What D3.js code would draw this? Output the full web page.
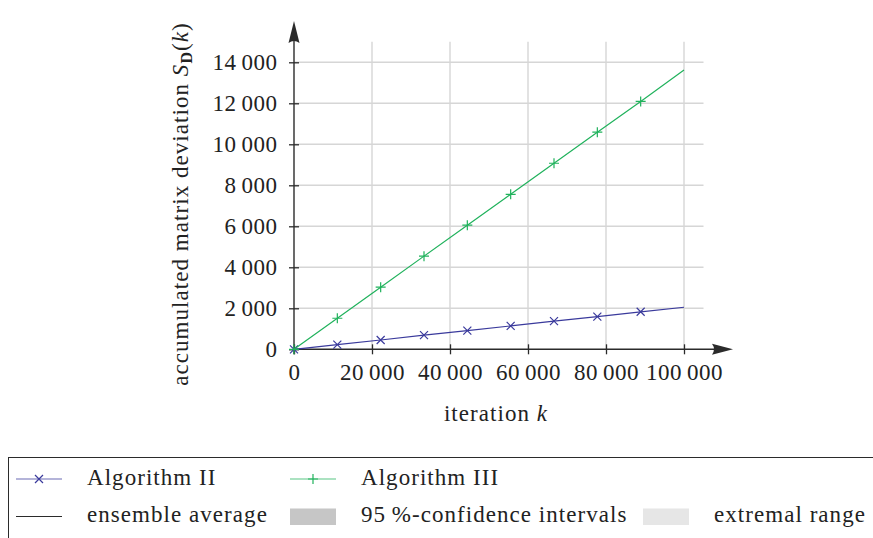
<!DOCTYPE html>
<html>
<head>
<meta charset="utf-8">
<script src="https://cdn.jsdelivr.net/npm/d3@7"></script>
<style>
  html, body { margin: 0; padding: 0; background: #fff; }
  svg { display: block; }
  text { font-family: "Liberation Serif", "Times New Roman", serif; fill: #222; letter-spacing: 1.05px; }
  .tick text { letter-spacing: 0.5px; }
</style>
</head>
<body>
<svg id="chart" width="873" height="538"></svg>
<script>
// Accumulated matrix deviation over the iterations, sampled every 1/9 of the run
const iterations = [0, 11111, 22222, 33333, 44444, 55556, 66667, 77778, 88889, 100000];
const algorithmII = [0, 230, 455, 690, 910, 1140, 1375, 1595, 1830, 2050];
const algorithmIII = [0, 1515, 3030, 4545, 6055, 7560, 9075, 10590, 12090, 13620];

const xTicks = [0, 20000, 40000, 60000, 80000, 100000];
const yTicks = [0, 2000, 4000, 6000, 8000, 10000, 12000, 14000];

const legendRow1 = ["Algorithm II", "Algorithm III"];
const legendRow2 = ["ensemble average", "95\u2009%-confidence intervals", "extremal range"];

const COL_II = "#3a3a9c";
const COL_III = "#20b25c";
const AXIS = "#2b2b2b";
const GRID = "#d6d6d6";

const svg = d3.select("#chart");
const fontSize = 23;

const x = d3.scaleLinear().domain([0, 105000]).range([294, 703.5]);
const y = d3.scaleLinear().domain([0, 15000]).range([349.3, 41.8]);

const fmt = d3.formatLocale({ decimal: ".", thousands: "\u2009", grouping: [3], currency: ["", ""] }).format(",d");

// grid
const grid = svg.append("g");
grid.selectAll("line.v").data(xTicks.filter(d => d > 0)).join("line")
  .attr("x1", d => x(d)).attr("x2", d => x(d))
  .attr("y1", y(0)).attr("y2", y(15000))
  .attr("stroke", GRID).attr("stroke-width", 1.4);
grid.selectAll("line.h").data(yTicks.filter(d => d > 0)).join("line")
  .attr("x1", x(0)).attr("x2", x(105000))
  .attr("y1", d => y(d)).attr("y2", d => y(d))
  .attr("stroke", GRID).attr("stroke-width", 1.4);

// axes
const xAxis = svg.append("g").attr("transform", `translate(0,${y(0)})`)
  .call(d3.axisBottom(x).tickValues(xTicks).tickFormat(fmt).tickSize(5).tickPadding(0));
xAxis.select(".domain").remove();
xAxis.selectAll(".tick line").attr("y1", -5).attr("y2", 5).attr("stroke", AXIS).attr("stroke-width", 1.3);
xAxis.selectAll(".tick text").attr("y", 31).attr("dy", null)
  .style("font-size", fontSize + "px").style("font-family", "Liberation Serif").attr("fill", "#222");

const yAxis = svg.append("g").attr("transform", `translate(${x(0)},0)`)
  .call(d3.axisLeft(y).tickValues(yTicks).tickFormat(fmt).tickSize(5));
yAxis.select(".domain").remove();
yAxis.selectAll(".tick line").attr("x1", -5).attr("x2", 5).attr("stroke", AXIS).attr("stroke-width", 1.3);
yAxis.selectAll(".tick text").attr("x", -16.5).attr("dy", "0.33em")
  .style("font-size", fontSize + "px").style("font-family", "Liberation Serif").attr("fill", "#222");

// axis lines with arrow heads
svg.append("line").attr("x1", x(0)).attr("x2", 716).attr("y1", y(0)).attr("y2", y(0))
  .attr("stroke", AXIS).attr("stroke-width", 1.4);
svg.append("path")
  .attr("d", `M733,${y(0)} L712,${y(0) - 5.5} Q716,${y(0)} 712,${y(0) + 5.5} Z`)
  .attr("fill", AXIS);
svg.append("line").attr("x1", x(0)).attr("x2", x(0)).attr("y1", y(0) + 5).attr("y2", 40)
  .attr("stroke", AXIS).attr("stroke-width", 1.4);
svg.append("path")
  .attr("d", `M${x(0)},21 L${x(0) - 5.5},43 Q${x(0)},39 ${x(0) + 5.5},43 Z`)
  .attr("fill", AXIS);

// series
const series = [
  { name: legendRow1[0], values: algorithmII, color: COL_II, marker: "x" },
  { name: legendRow1[1], values: algorithmIII, color: COL_III, marker: "+" }
];

function markerPath(type, cx, cy) {
  if (type === "x") {
    const r = 4;
    return `M${cx - r},${cy - r}L${cx + r},${cy + r}M${cx - r},${cy + r}L${cx + r},${cy - r}`;
  }
  const r = 5;
  return `M${cx - r},${cy}L${cx + r},${cy}M${cx},${cy - r}L${cx},${cy + r}`;
}

const line = d3.line().x(d => x(d[0])).y(d => y(d[1]));
series.forEach(s => {
  const pts = iterations.map((k, i) => [k, s.values[i]]);
  svg.append("path").datum(pts).attr("d", line)
    .attr("fill", "none").attr("stroke", s.color).attr("stroke-width", 1.2);
  svg.append("g").selectAll("path").data(pts.slice(0, -1)).join("path")
    .attr("d", d => markerPath(s.marker, x(d[0]), y(d[1])))
    .attr("stroke", s.color).attr("stroke-width", 1.2).attr("fill", "none");
});

// axis titles
const xt = svg.append("text").attr("x", 496).attr("y", 421).attr("text-anchor", "middle")
  .style("font-size", fontSize + "px");
xt.append("tspan").text("iteration ");
xt.append("tspan").attr("font-style", "italic").text("k");

const yt = svg.append("text").attr("transform", "translate(188,204) rotate(-90)")
  .attr("text-anchor", "middle").style("font-size", fontSize + "px");
yt.append("tspan").text("accumulated matrix deviation ");
yt.append("tspan").attr("font-style", "italic").text("S");
yt.append("tspan").attr("font-weight", "bold").attr("dy", 4).style("font-size", "16px").text("D");
yt.append("tspan").attr("dy", -4).text("(");
yt.append("tspan").attr("font-style", "italic").text("k");
yt.append("tspan").text(")");

// legend
const lg = svg.append("g");
lg.append("rect").attr("x", 8.5).attr("y", 457.5).attr("width", 880).attr("height", 100)
  .attr("fill", "none").attr("stroke", AXIS).attr("stroke-width", 1);

const row1Y = 479, row2Y = 516.5;
const colX = [16, 290, 643];
const textX = [87, 361, 714];

series.forEach((s, i) => {
  lg.append("line").attr("x1", colX[i]).attr("x2", colX[i] + 46).attr("y1", row1Y).attr("y2", row1Y)
    .attr("stroke", s.color).attr("stroke-width", 1.2).attr("stroke-opacity", 0.75);
  lg.append("path").attr("d", markerPath(s.marker, colX[i] + 23, row1Y))
    .attr("stroke", s.color).attr("stroke-width", 1.2).attr("fill", "none");
  lg.append("text").attr("x", textX[i]).attr("y", row1Y + 5.5).style("font-size", fontSize + "px").text(s.name);
});

lg.append("line").attr("x1", colX[0]).attr("x2", colX[0] + 46).attr("y1", row2Y).attr("y2", row2Y)
  .attr("stroke", AXIS).attr("stroke-width", 1.2);
lg.append("rect").attr("x", colX[1]).attr("y", 508.5).attr("width", 46).attr("height", 16.5).attr("fill", "#c6c6c6");
lg.append("rect").attr("x", colX[2]).attr("y", 508.5).attr("width", 46).attr("height", 16.5).attr("fill", "#e6e6e6");
legendRow2.forEach((t, i) => {
  lg.append("text").attr("x", textX[i]).attr("y", row2Y + 5.5).style("font-size", fontSize + "px").text(t);
});
</script>
</body>
</html>
